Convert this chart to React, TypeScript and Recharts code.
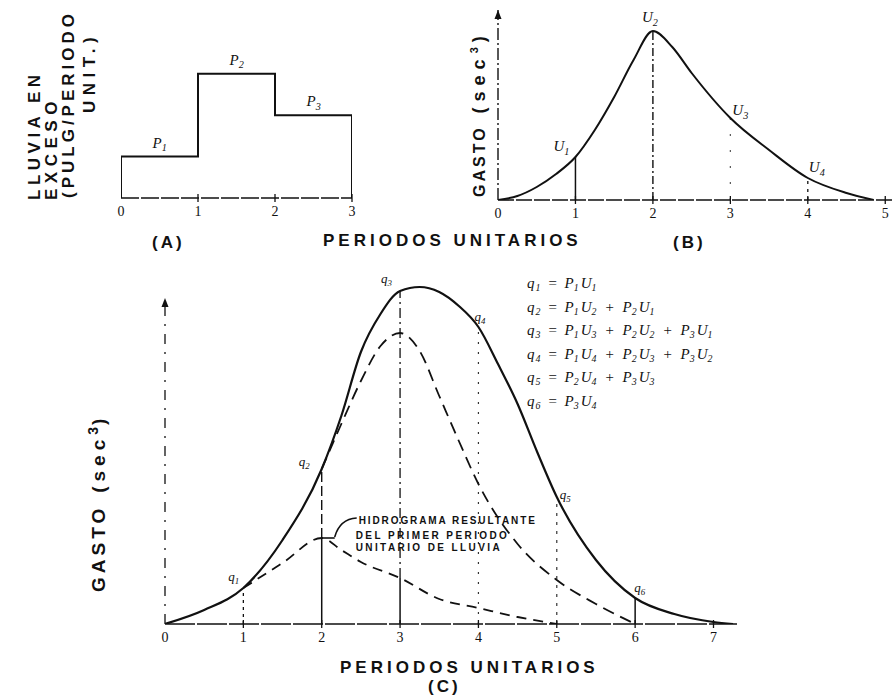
import React from 'react'
import { ComposedChart, Line, XAxis, YAxis, ReferenceLine, ReferenceDot } from 'recharts'

const SERIF = '"Liberation Serif", "Times New Roman", serif'
const SANS = '"Liberation Sans", Arial, sans-serif'
const INK = '#111'

// (A) lluvia en exceso por periodo unitario
const rainStart = [0, 1, 2]
const rainDepth = [1, 3, 2]
const rainNames = ['1', '2', '3']
const rainTicks = [0, 1, 2, 3]

// (B) hidrograma unitario
const unitX = [0, 0.25, 0.5, 0.75, 1, 1.25, 1.5, 1.75, 2, 2.25, 2.5, 3, 3.5, 4, 4.5, 4.85]
const unitQ = [0, 0.04, 0.13, 0.26, 0.43, 0.7, 1.03, 1.4, 1.69, 1.53, 1.27, 0.82, 0.5, 0.22, 0.07, 0]
const unitTicks = [0, 1, 2, 3, 4, 5]
const unitPoints = [1, 2, 3, 4]

// (C) hidrograma compuesto
const hydroX = [0, 0.5, 1, 1.5, 2, 2.25, 2.5, 2.75, 3, 3.25, 3.5, 3.75, 4, 4.25, 4.5, 4.75, 5, 5.5, 6, 6.5, 7, 7.25]
const totalQ = [0, 0.14, 0.36, 0.84, 1.55, 2.08, 2.72, 3.1, 3.33, 3.37, 3.32, 3.18, 2.97, 2.6, 2.2, 1.72, 1.27, 0.64, 0.26, 0.1, 0.02, 0]
const twoX = [2, 2.25, 2.5, 2.75, 3, 3.25, 3.5, 3.75, 4, 4.5, 5, 5.5, 6]
const twoQ = [1.55, 2.0, 2.43, 2.78, 2.91, 2.73, 2.28, 1.83, 1.4, 0.8, 0.44, 0.2, 0]
const firstX = [1, 1.5, 2, 2.25, 2.5, 3, 3.5, 4, 4.5, 5]
const firstQ = [0.36, 0.61, 0.86, 0.74, 0.62, 0.46, 0.25, 0.16, 0.07, 0]
const hydroTicks = [0, 1, 2, 3, 4, 5, 6, 7]
const qPoints = [1, 2, 3, 4, 5, 6]

// q_n = suma de P_a * U_b
const eqTerms = [
  [[1, 1]],
  [[1, 2], [2, 1]],
  [[1, 3], [2, 2], [3, 1]],
  [[1, 4], [2, 3], [3, 2]],
  [[2, 4], [3, 3]],
  [[3, 4]],
]

const pts = (xs: number[], ys: number[]) => xs.map((x, i) => ({ x, y: ys[i] }))
const at = (xs: number[], ys: number[], x: number) => ys[xs.indexOf(x)]

const stepData = [
  { x: rainStart[0], y: 0 },
  ...rainStart.map((x, i) => ({ x, y: rainDepth[i] })),
  { x: rainTicks[rainTicks.length - 1], y: rainDepth[rainDepth.length - 1] },
  { x: rainTicks[rainTicks.length - 1], y: 0 },
]

function AxisTick(props: any) {
  const { x = 0, y = 0, payload } = props
  return (
    <g>
      {payload?.value !== 0 && <line x1={x} x2={x} y1={y - 4} y2={y + 4} stroke={INK} strokeWidth={1.3} />}
      <text x={x} y={y + 18} textAnchor="middle" fontFamily={SERIF} fontSize={14} fill={INK}>
        {payload?.value}
      </text>
    </g>
  )
}
const renderTick = (props: any) => <AxisTick {...props} />

// etiqueta en cursiva con subíndice, desplazada respecto al punto
const subLabel = (base: string, sub: string, dx: number, dy: number, size: number) => (p: any) => (
  <text x={p.cx + dx} y={p.cy + dy} fontFamily={SERIF} fontStyle="italic" fontSize={size} fill={INK}>
    {base}
    <tspan dy={size * 0.25} fontSize={size * 0.68}>{sub}</tspan>
  </text>
)

const arrowUp = (p: any) => (
  <path d={`M${p.cx - 3.5},${p.cy + 9} L${p.cx},${p.cy} L${p.cx + 3.5},${p.cy + 9} Z`} fill={INK} />
)

const firstPeakNote = (p: any) => (
  <g>
    <path d={`M${p.cx},${p.cy} H${p.cx + 13}`} stroke={INK} strokeWidth={1.6} fill="none" />
    <path d={`M${p.cx + 35},${p.cy - 20} Q${p.cx + 18},${p.cy - 19} ${p.cx + 13},${p.cy - 1}`} stroke={INK} strokeWidth={1.6} fill="none" />
    <g fontFamily={SANS} fontWeight={700} fontSize={10} fill={INK}>
      <text x={p.cx + 37} y={p.cy - 14} letterSpacing={1.9}>HIDROGRAMA RESULTANTE</text>
      <text x={p.cx + 34} y={p.cy + 1} letterSpacing={2.4}>DEL PRIMER PERIODO</text>
      <text x={p.cx + 34} y={p.cy + 13} letterSpacing={2.4}>UNITARIO DE LLUVIA</text>
    </g>
  </g>
)

const uOffsets = [[-22, -6], [-11, -9], [2, -3], [1, -6]]
const qOffsets = [[-15, -7], [-23, -3], [-19, -8], [-4, -6], [3, 2], [-1, -6]]

function Runs({ runs, size }: { runs: [string, boolean, number][]; size: number }) {
  let shifted = false
  return (
    <>
      {runs.map(([t, sub, dx], i) => {
        const dy = sub === shifted ? 0 : sub ? 3 : -3
        shifted = sub
        return (
          <tspan key={i} dy={dy} dx={dx} fontSize={sub ? size * 0.66 : size}>
            {t}
          </tspan>
        )
      })}
    </>
  )
}

function equationRuns(n: number, terms: number[][]): [string, boolean, number][] {
  const runs: [string, boolean, number][] = [['q', false, 0], [String(n), true, 1], ['=', false, 7]]
  terms.forEach(([a, b], i) => {
    if (i > 0) runs.push(['+', false, 8])
    runs.push(['P', false, i === 0 ? 7 : 8], [String(a), true, 0], ['U', false, 2], [String(b), true, 0])
  })
  return runs
}

function Overlay() {
  return (
    <svg width={895} height={699} style={{ position: 'absolute', left: 0, top: 0, pointerEvents: 'none' }}>
      <g fontFamily={SANS} fontWeight={700} fill={INK}>
        <text transform="translate(40,200) rotate(-90)" fontSize={17} letterSpacing={4.5}>LLUVIA EN</text>
        <text transform="translate(57,200) rotate(-90)" fontSize={17} letterSpacing={5.5}>EXCESO</text>
        <text transform="translate(74,198) rotate(-90)" fontSize={17} letterSpacing={4}>(PULG/PERIODO</text>
        <text transform="translate(95,113) rotate(-90)" fontSize={17} letterSpacing={5.5}>UNIT.)</text>

        <text x={323} y={246} fontSize={17} letterSpacing={4}>PERIODOS UNITARIOS</text>
        <text x={152} y={248} fontSize={17} letterSpacing={3}>(A)</text>
        <text x={673} y={248} fontSize={17} letterSpacing={3}>(B)</text>

        <text transform="translate(485,197) rotate(-90)" fontSize={16}>
          <tspan letterSpacing={3}>GASTO</tspan>
          <tspan dx={12} fontSize={18} letterSpacing={6}>(sec</tspan>
          <tspan dy={-7} fontSize={11} letterSpacing={5}>3</tspan>
          <tspan dy={7} fontSize={18}>)</tspan>
        </text>

        <text transform="translate(105,592) rotate(-90)" fontSize={19}>
          <tspan letterSpacing={4}>GASTO</tspan>
          <tspan dx={12} letterSpacing={5}>(sec</tspan>
          <tspan dy={-7} fontSize={14} letterSpacing={2}>3</tspan>
          <tspan dy={7}>)</tspan>
        </text>

        <text x={340} y={673} fontSize={17} letterSpacing={4}>PERIODOS UNITARIOS</text>
        <text x={428} y={692} fontSize={17} letterSpacing={3}>(C)</text>
      </g>
      <g fontFamily={SERIF} fontStyle="italic" fill={INK}>
        {eqTerms.map((terms, i) => (
          <text key={i} x={527} y={288 + i * 23.5}>
            <Runs runs={equationRuns(i + 1, terms)} size={15} />
          </text>
        ))}
      </g>
    </svg>
  )
}

export default function App() {
  const axisLine = { stroke: INK, strokeWidth: 1.6 }
  return (
    <div style={{ position: 'absolute', left: 0, top: 0, width: 895, height: 699, background: '#fff', overflow: 'hidden' }}>
      {/* (A) */}
      <div style={{ position: 'absolute', left: 0, top: 0 }}>
        <ComposedChart width={400} height={240} margin={{ top: 53, right: 48, left: 121, bottom: 12 }}>
          <XAxis type="number" dataKey="x" domain={[0, 3]} allowDataOverflow ticks={rainTicks} interval={0}
            height={30} tickSize={0} tickMargin={0} tickLine={false} axisLine={{ ...axisLine, strokeDasharray: '18 2' }} tick={renderTick} />
          <YAxis hide type="number" domain={[0, 3.5]} allowDataOverflow />
          <Line data={stepData} dataKey="y" type="stepAfter" stroke={INK} strokeWidth={2} dot={false} isAnimationActive={false} />
          {rainStart.map((x, i) => (
            <ReferenceDot key={x} x={x + 0.5} y={rainDepth[i]} r={0} shape={subLabel('P', rainNames[i], -7, -9, 15)} />
          ))}
        </ComposedChart>
      </div>

      {/* (B) */}
      <div style={{ position: 'absolute', left: 440, top: 0 }}>
        <ComposedChart width={455} height={240} margin={{ top: 5, right: 2, left: 58, bottom: 10 }}>
          <XAxis type="number" dataKey="x" domain={[0, 5.1]} allowDataOverflow ticks={unitTicks} interval={0}
            height={30} tickSize={0} tickMargin={0} tickLine={false} axisLine={{ ...axisLine, strokeDasharray: '16 2' }} tick={renderTick} />
          <YAxis hide type="number" domain={[0, 1.95]} allowDataOverflow />
          <ReferenceLine segment={[{ x: 0, y: 0 }, { x: 0, y: 1.9 }]} stroke={INK} strokeWidth={1.4} strokeDasharray="12 3 2 3" />
          <ReferenceDot x={0} y={1.9} r={0} shape={arrowUp} />
          <ReferenceLine segment={[{ x: 1, y: 0 }, { x: 1, y: at(unitX, unitQ, 1) }]} stroke={INK} strokeWidth={1.5} />
          <ReferenceLine segment={[{ x: 2, y: 0 }, { x: 2, y: at(unitX, unitQ, 2) }]} stroke={INK} strokeWidth={1.4} strokeDasharray="8 3 2 3" />
          <ReferenceLine segment={[{ x: 3, y: 0 }, { x: 3, y: at(unitX, unitQ, 3) }]} stroke="#555" strokeWidth={1.2} strokeDasharray="2 14" />
          <ReferenceLine segment={[{ x: 4, y: 0 }, { x: 4, y: at(unitX, unitQ, 4) }]} stroke={INK} strokeWidth={1.3} strokeDasharray="3 5" />
          <Line data={pts(unitX, unitQ)} dataKey="y" type="monotone" stroke={INK} strokeWidth={2} dot={false} isAnimationActive={false} />
          {unitPoints.map((x, i) => (
            <ReferenceDot key={x} x={x} y={at(unitX, unitQ, x)} r={0}
              shape={subLabel('U', String(x), uOffsets[i][0], uOffsets[i][1], 15)} />
          ))}
        </ComposedChart>
      </div>

      {/* (C) */}
      <div style={{ position: 'absolute', left: 100, top: 250 }}>
        <ComposedChart width={660} height={430} margin={{ top: 14, right: 23, left: 65, bottom: 26 }}>
          <XAxis type="number" dataKey="x" domain={[0, 7.3]} allowDataOverflow ticks={hydroTicks} interval={0}
            height={30} tickSize={0} tickMargin={0} tickLine={false} axisLine={{ ...axisLine, strokeDasharray: '30 2' }} tick={renderTick} />
          <YAxis hide type="number" domain={[0, 3.6]} allowDataOverflow />
          <ReferenceLine segment={[{ x: 0, y: 0 }, { x: 0, y: 3.26 }]} stroke={INK} strokeWidth={1.3} strokeDasharray="10 8 2 8" />
          <ReferenceDot x={0} y={3.26} r={0} shape={arrowUp} />
          <ReferenceLine segment={[{ x: 1, y: 0 }, { x: 1, y: at(hydroX, totalQ, 1) }]} stroke={INK} strokeWidth={1.3} strokeDasharray="3 4" />
          <ReferenceLine segment={[{ x: 2, y: 0 }, { x: 2, y: at(firstX, firstQ, 2) }]} stroke={INK} strokeWidth={1.5} />
          <ReferenceLine segment={[{ x: 2, y: at(firstX, firstQ, 2) }, { x: 2, y: at(hydroX, totalQ, 2) }]} stroke={INK} strokeWidth={1.4} strokeDasharray="10 4" />
          <ReferenceLine segment={[{ x: 3, y: 0 }, { x: 3, y: at(firstX, firstQ, 3) }]} stroke={INK} strokeWidth={1.5} />
          <ReferenceLine segment={[{ x: 3, y: at(firstX, firstQ, 3) }, { x: 3, y: at(hydroX, totalQ, 3) }]} stroke={INK} strokeWidth={1.3} strokeDasharray="10 4 2 4" />
          <ReferenceLine segment={[{ x: 4, y: 0 }, { x: 4, y: at(hydroX, totalQ, 4) }]} stroke="#333" strokeWidth={1.2} strokeDasharray="2 8" />
          <ReferenceLine segment={[{ x: 5, y: 0 }, { x: 5, y: at(hydroX, totalQ, 5) }]} stroke="#333" strokeWidth={1.2} strokeDasharray="3 6" />
          <ReferenceLine segment={[{ x: 6, y: 0 }, { x: 6, y: at(hydroX, totalQ, 6) }]} stroke={INK} strokeWidth={1.5} />
          <Line data={pts(firstX, firstQ)} dataKey="y" type="monotone" stroke={INK} strokeWidth={1.8} strokeDasharray="10 7" dot={false} isAnimationActive={false} />
          <Line data={pts(twoX, twoQ)} dataKey="y" type="monotone" stroke={INK} strokeWidth={1.8} strokeDasharray="12 7" dot={false} isAnimationActive={false} />
          <Line data={pts(hydroX, totalQ)} dataKey="y" type="monotone" stroke={INK} strokeWidth={2.2} dot={false} isAnimationActive={false} />
          {qPoints.map((x, i) => (
            <ReferenceDot key={x} x={x} y={at(hydroX, totalQ, x)} r={0}
              shape={subLabel('q', String(x), qOffsets[i][0], qOffsets[i][1], 13)} />
          ))}
          <ReferenceDot x={2} y={at(firstX, firstQ, 2)} r={0} shape={firstPeakNote} />
        </ComposedChart>
      </div>

      <Overlay />
    </div>
  )
}
